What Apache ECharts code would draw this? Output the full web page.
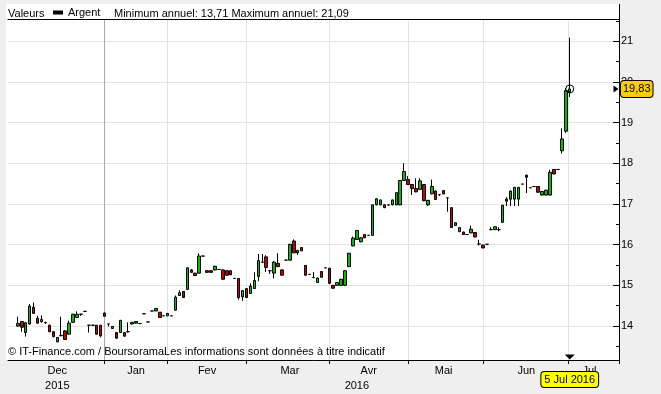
<!DOCTYPE html>
<html><head><meta charset="utf-8">
<script src="https://cdn.jsdelivr.net/npm/echarts@6/dist/echarts.min.js"></script>
<style>html,body{margin:0;padding:0;background:#EFEFEF}#c{width:661px;height:394px}</style>
</head><body><div id="c"></div>
<script>
// ---- data ----
const seriesName = 'Argent';
const minAnnual = 13.71;
const maxAnnual = 21.09;
const lastDate = '5 Jul 2016';
const sourceNote = '\u00a9 IT-Finance.com / BoursoramaLes informations sont donn\u00e9es \u00e0 titre indicatif';

const open = [
14.00,14.11,13.84,14.05,14.46,14.19,14.11,14.09,14.02,13.86,
13.61,13.76,13.88,13.80,14.09,14.21,14.29,14.36,14.02,14.02,
14.02,14.02,14.32,14.05,13.94,13.84,13.84,13.84,13.86,14.05,
14.07,14.06,14.30,14.10,14.37,14.37,14.34,14.25,14.25,14.25,
14.39,14.75,14.85,14.90,15.38,15.30,15.30,15.72,15.36,15.36,
15.38,15.39,15.38,15.36,15.36,15.17,15.17,14.72,14.92,14.80,
14.92,15.22,15.57,15.70,15.36,15.30,15.54,15.38,15.62,15.62,
16.09,15.80,15.93,15.49,15.27,15.19,15.07,15.34,15.43,15.42,
15.00,15.00,15.00,15.00,15.46,15.97,16.13,16.07,16.25,16.23,
16.23,16.98,16.98,16.98,16.98,16.98,16.98,16.98,17.58,17.60,
17.48,17.38,17.36,17.48,16.98,17.25,17.32,17.23,17.33,17.15,
16.91,16.47,16.32,16.31,16.25,16.29,16.30,16.02,15.99,16.01,
16.37,16.37,16.37,16.55,17.12,17.12,17.12,17.12,17.49,17.71,
17.40,17.43,17.43,17.22,17.22,17.22,17.85,17.85,18.31,18.79,
19.76];
const close = [
14.06,13.97,14.08,14.49,14.31,14.07,14.16,14.08,13.86,13.74,
13.72,13.77,13.67,14.07,14.29,14.29,14.29,14.36,14.02,14.02,
13.80,13.76,14.24,14.05,13.99,13.70,14.14,13.75,13.86,14.09,
14.11,14.06,14.30,14.10,14.37,14.43,14.21,14.25,14.31,14.25,
14.71,14.82,14.70,15.43,15.32,15.24,15.72,15.72,15.32,15.32,
15.47,15.39,15.15,15.25,15.26,15.17,14.70,14.87,14.70,14.98,
15.12,15.61,15.57,15.44,15.36,15.57,15.46,15.25,15.62,16.01,
15.80,15.86,15.85,15.25,15.27,15.19,15.18,15.20,15.43,15.05,
14.93,15.07,15.15,15.36,15.79,16.16,16.35,16.17,16.17,16.23,
16.98,17.13,17.10,16.91,16.98,17.10,17.28,17.58,17.80,17.48,
17.38,17.30,17.57,17.08,17.09,17.43,17.11,17.23,17.25,17.15,
16.42,16.54,16.42,16.25,16.25,16.38,16.19,16.02,15.92,16.01,
16.37,16.44,16.37,16.97,17.07,17.32,17.41,17.41,17.49,17.66,
17.40,17.43,17.29,17.31,17.34,17.78,17.74,17.85,18.60,19.79,
19.83];
const low = [
13.98,13.86,13.74,14.03,14.30,14.06,14.08,14.05,13.85,13.72,
13.60,13.75,13.66,13.79,14.08,14.20,14.25,14.36,13.84,14.02,
13.79,13.72,14.23,13.99,13.93,13.69,13.83,13.74,13.84,14.04,
14.06,14.06,14.30,14.10,14.37,14.37,14.20,14.25,14.24,14.25,
14.38,14.74,14.69,14.89,15.31,15.23,15.29,15.72,15.31,15.31,
15.37,15.39,15.14,15.24,15.25,15.17,14.65,14.62,14.69,14.79,
14.91,15.10,15.55,15.33,15.28,15.17,15.45,15.24,15.62,15.61,
15.79,15.75,15.84,15.24,15.27,15.18,15.06,15.19,15.43,15.04,
14.92,14.99,14.99,14.99,15.45,15.96,16.12,16.06,16.16,16.23,
16.22,16.97,16.97,16.90,16.95,16.97,16.97,16.97,17.57,17.47,
17.22,17.29,17.35,17.07,16.95,17.24,17.10,17.20,17.24,16.81,
16.41,16.46,16.31,16.24,16.25,16.28,16.18,15.98,15.91,16.01,
16.36,16.36,16.33,16.54,16.95,16.95,16.95,16.95,17.49,17.27,
17.40,17.43,17.28,17.21,17.21,17.21,17.73,17.85,18.24,18.75,
19.63];
const high = [
14.23,14.12,14.10,14.54,14.58,14.25,14.26,14.10,14.03,13.87,
13.73,14.23,13.90,14.13,14.30,14.36,14.29,14.36,14.02,14.02,
14.02,14.02,14.33,14.05,14.00,13.85,14.15,13.85,14.09,14.10,
14.12,14.06,14.30,14.10,14.37,14.44,14.34,14.25,14.32,14.25,
14.75,14.88,14.86,15.44,15.40,15.31,15.79,15.72,15.37,15.37,
15.48,15.39,15.39,15.37,15.37,15.17,15.17,14.88,14.93,15.05,
15.32,15.77,15.77,15.74,15.37,15.60,15.79,15.39,15.62,16.02,
16.13,15.87,15.94,15.50,15.27,15.33,15.19,15.35,15.43,15.43,
15.01,15.08,15.16,15.37,15.80,16.20,16.36,16.18,16.26,16.23,
16.99,17.14,17.11,16.99,16.98,17.11,17.29,17.59,18.00,17.69,
17.49,17.63,17.63,17.49,17.10,17.60,17.33,17.23,17.34,17.15,
16.92,16.55,16.43,16.32,16.25,16.47,16.31,16.12,16.00,16.01,
16.43,16.45,16.43,16.98,17.17,17.33,17.42,17.42,17.49,17.72,
17.40,17.43,17.44,17.32,17.35,17.84,17.86,17.85,18.86,19.85,
21.09];

// x axis: trading-day slots (empty slots before and after the data)
const LEAD = 2;
const SLOTS = 155;
const monthLabels     = ['Dec','Jan','Fev','Mar','Avr','Mai','Jun','Jul'];
const monthLabelSlots = [12, 32, 50, 71, 91, 110, 131, 147];
const yearLabels      = ['2015','2016'];
const yearLabelSlots  = [12, 88];
const monthLineHalfSlots = [49, 81, 121, 163, 203, 241, 284];  // month boundaries, in half-slot units
// y axis extent
const Y_MIN = 13.164, Y_MAX = 21.55;

// ---- build ----
const FONT = '"Liberation Sans", Arial, sans-serif';
const slots = Array.from({length: SLOTS}, (_, i) => String(i));
const halfSlots = Array.from({length: SLOTS * 2}, (_, i) => String(i));
const candleData = slots.map(() => '-');
open.forEach((o, i) => { candleData[LEAD + i] = [o, close[i], low[i], high[i]]; });
const lastIdx = LEAD + open.length - 1;
const lastClose = close[close.length - 1];
const fmt = v => Number(v).toFixed(2).replace('.', ',');
const txt = {fontSize: 11, fontWeight: 'normal', color: '#000', fontFamily: FONT};
const gridLight = '#E2E2E2', gridDark = '#A8A8A8';

const chart = echarts.init(document.getElementById('c'), null, {renderer: 'canvas'});
chart.setOption({
  backgroundColor: '#EFEFEF',
  animation: false,
  textStyle: {fontFamily: FONT},
  graphic: [
    {type: 'rect', z: -100, silent: true, shape: {x: 6, y: 4, width: 613, height: 356}, style: {fill: '#fff'}},
    {type: 'line', silent: true, shape: {x1: 619.5, y1: 4, x2: 619.5, y2: 19}, style: {stroke: '#000', lineWidth: 1}}
  ],
  title: [
    {text: 'Valeurs', left: 8, top: 8, padding: 0, textStyle: txt},
    {text: 'Minimum annuel: ' + fmt(minAnnual) + ' Maximum annuel: ' + fmt(maxAnnual), left: 114, top: 8, padding: 0, textStyle: txt},
    {text: sourceNote, left: 8, top: 346, padding: 0, textStyle: txt}
  ],
  legend: {
    data: [seriesName], left: 53, top: 7, padding: 0, icon: 'rect', itemWidth: 10, itemHeight: 4,
    textStyle: txt, itemStyle: {color: '#000', borderWidth: 0}, selectedMode: false
  },
  grid: {left: 8, right: 42, top: 19, bottom: 34},
  xAxis: [
    { // candles + month labels
      type: 'category', data: slots, position: 'bottom', boundaryGap: true,
      axisLine: {show: true, lineStyle: {color: '#000', width: 1}},
      axisTick: {show: false}, splitLine: {show: false},
      axisLabel: {
        interval: (i) => monthLabelSlots.includes(i),
        formatter: (v) => { const k = monthLabelSlots.indexOf(Number(v)); return k >= 0 ? monthLabels[k] : ''; },
        margin: 5, ...txt
      },
      axisPointer: {
        show: true, status: 'show', value: lastIdx, type: 'none', triggerTooltip: false,
        label: {show: true, formatter: () => lastDate, margin: 12, backgroundColor: '#FFFF00',
                borderColor: '#000', borderWidth: 1, padding: [2, 3, 2, 3], color: '#000', fontSize: 11,
                fontFamily: FONT, shadowBlur: 0, shadowColor: 'transparent'}
      }
    },
    { // month boundaries: ticks + vertical grid lines
      type: 'category', data: halfSlots, position: 'bottom', boundaryGap: true,
      axisLine: {show: false}, axisLabel: {show: false},
      axisTick: {show: true, interval: (i) => monthLineHalfSlots.includes(i), length: 4, lineStyle: {color: '#000'}},
      splitLine: {show: true, interval: (i) => monthLineHalfSlots.includes(i),
        lineStyle: {color: [gridDark, gridLight, gridLight, gridLight, gridLight, gridLight, gridLight, gridLight], width: 1}},
      axisPointer: {show: false}
    },
    { // year labels
      type: 'category', data: slots, position: 'bottom', boundaryGap: true,
      axisLine: {show: false}, axisTick: {show: false}, splitLine: {show: false},
      axisLabel: {
        interval: (i) => yearLabelSlots.includes(i),
        formatter: (v) => { const k = yearLabelSlots.indexOf(Number(v)); return k >= 0 ? yearLabels[k] : ''; },
        margin: 20, ...txt
      },
      axisPointer: {show: false}
    },
    { // top border under header
      type: 'category', data: [''], position: 'top',
      axisLine: {show: true, lineStyle: {color: '#000', width: 1}},
      axisTick: {show: false}, axisLabel: {show: false}, splitLine: {show: false}, axisPointer: {show: false}
    }
  ],
  yAxis: [
    {
      type: 'value', position: 'right', min: Y_MIN, max: Y_MAX, splitNumber: 8, scale: true,
      axisLine: {show: true, lineStyle: {color: '#000', width: 1}},
      axisTick: {show: true, inside: true, length: 6, lineStyle: {color: '#000'}},
      axisLabel: {margin: 2, showMinLabel: false, showMaxLabel: false, ...txt},
      splitLine: {show: true, lineStyle: {color: gridLight, width: 1}},
      axisPointer: {
        show: true, status: 'show', value: lastClose, type: 'none', snap: false, triggerTooltip: false,
        label: {show: true, margin: 2, formatter: (p) => fmt(p.value), backgroundColor: '#FFCC00',
                borderColor: '#000', borderWidth: 1, padding: [3, 2, 2, 2], color: '#000', fontSize: 11,
                fontFamily: FONT, shadowBlur: 0, shadowColor: 'transparent'}
      }
    },
    { // half-unit minor ticks
      type: 'value', position: 'right', min: Y_MIN, max: Y_MAX, splitNumber: 16, scale: true,
      axisLine: {show: false}, axisLabel: {show: false}, splitLine: {show: false},
      axisTick: {show: true, inside: true, length: 3, lineStyle: {color: '#000'}},
      axisPointer: {show: false}
    }
  ],
  series: [{
    name: seriesName, type: 'candlestick', xAxisIndex: 0, yAxisIndex: 0,
    data: candleData, barWidth: 3,
    itemStyle: {color: '#00C000', color0: '#CC0000', borderColor: '#000', borderColor0: '#000',
                borderColorDoji: '#000', borderWidth: 1},
    emphasis: {disabled: true},
    markPoint: {
      silent: true, label: {show: false}, animation: false,
      data: [
        {coord: [lastIdx, lastClose], symbol: 'circle', symbolSize: 8,
         itemStyle: {color: 'rgba(0,0,0,0)', borderColor: '#000', borderWidth: 1}},
        {coord: [SLOTS - 1, lastClose], symbol: 'triangle', symbolRotate: -90, symbolSize: [7, 5],
         symbolOffset: [-1, 0], itemStyle: {color: '#000', borderWidth: 0}},
        {coord: [lastIdx, Y_MIN], symbol: 'triangle', symbolRotate: 180, symbolSize: [10, 5],
         symbolOffset: [0, -3], itemStyle: {color: '#000', borderWidth: 0}}
      ]
    }
  }]
});
</script></body></html>
